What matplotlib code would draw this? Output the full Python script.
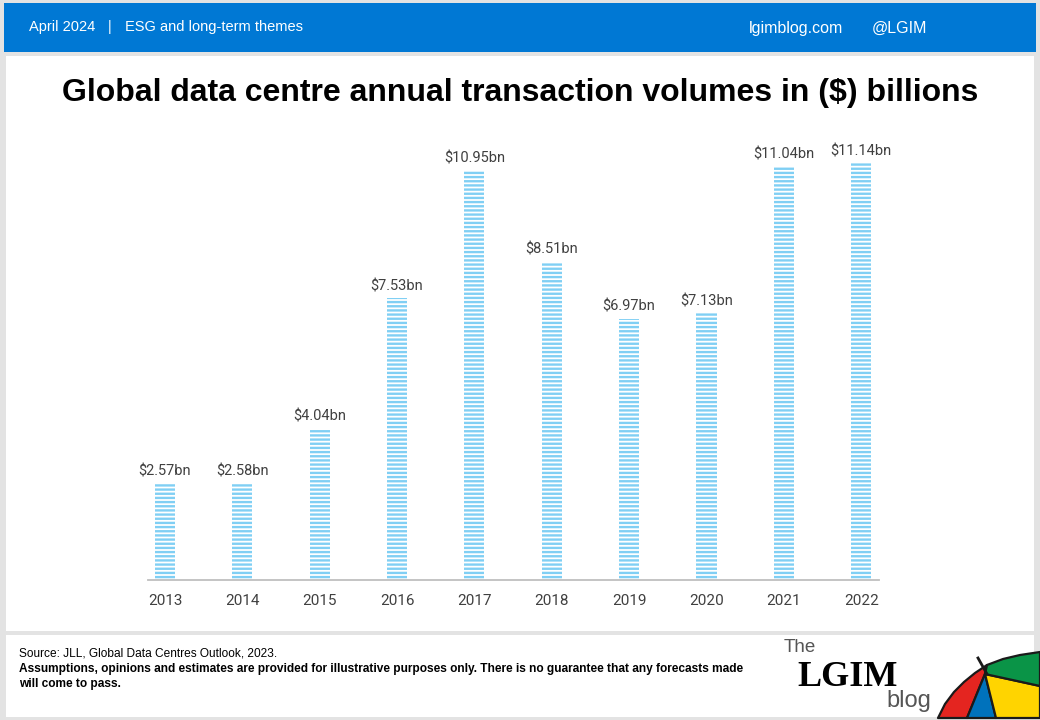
import matplotlib
matplotlib.use("Agg")
import matplotlib.pyplot as plt
from matplotlib.patches import Rectangle, Polygon
import numpy as np

# ---- data ----
years = ["2013", "2014", "2015", "2016", "2017", "2018", "2019", "2020", "2021", "2022"]
volumes = [2.57, 2.58, 4.04, 7.53, 10.95, 8.51, 6.97, 7.13, 11.04, 11.14]
value_labels = ["$2.57bn", "$2.58bn", "$4.04bn", "$7.53bn", "$10.95bn",
                "$8.51bn", "$6.97bn", "$7.13bn", "$11.04bn", "$11.14bn"]

title = "Global data centre annual transaction volumes in ($) billions"
header_left = "April 2024"
header_mid = "ESG and long-term themes"
header_site = "lgimblog.com"
header_handle = "@LGIM"
source_text = "Source: JLL, Global Data Centres Outlook, 2023."
disclaimer_1 = "Assumptions, opinions and estimates are provided for illustrative purposes only. There is no guarantee that any forecasts made"
disclaimer_2 = "will come to pass."

W, H = 1040, 720
BAR_BLUE = "#80cff4"
plt.rcParams["hatch.linewidth"] = 1.7

fig = plt.figure(figsize=(W / 100, H / 100), dpi=100)
fig.patch.set_facecolor("#e3e3e3")

# background / decoration axes in pixel coordinates
bg = fig.add_axes([0, 0, 1, 1], zorder=0)
bg.set_xlim(0, W)
bg.set_ylim(H, 0)
bg.axis("off")
bg.add_patch(Rectangle((4, 3), 1032, 49, facecolor="#0078d4", edgecolor="none"))
bg.add_patch(Rectangle((6, 56), 1028, 575, facecolor="white", edgecolor="none"))
bg.add_patch(Rectangle((6, 635), 1028, 82, facecolor="white", edgecolor="none"))

narrow = ["Liberation Sans Narrow", "Liberation Sans", "DejaVu Sans"]
bg.text(29, 27.5, header_left, color="white", fontsize=10.5, family=narrow, va="center", ha="left")
bg.text(110, 27.5, "|", color="white", fontsize=10.5, family=narrow, va="center", ha="center")
bg.text(125, 27.5, header_mid, color="white", fontsize=10.5, family=narrow, va="center", ha="left")
bg.text(749, 28, header_site, color="white", fontsize=11.5, family=narrow, va="center", ha="left")
bg.text(872, 28, header_handle, color="white", fontsize=11.5, family=narrow, va="center", ha="left")

bg.text(520, 93, title, color="black", fontsize=23, fontweight="bold",
        family=["Liberation Sans", "DejaVu Sans"], va="center", ha="center")

bg.text(19, 654, source_text, color="black", fontsize=8.6, family=narrow, va="center", ha="left")
bg.text(19, 669, disclaimer_1, color="black", fontsize=8.6, fontweight="bold", family=narrow, va="center", ha="left")
bg.text(19, 684, disclaimer_2, color="black", fontsize=8.6, fontweight="bold", family=narrow, va="center", ha="left")

# logo text
bg.text(784, 648, "The", color="#555555", fontsize=13.5, family=narrow, va="center", ha="left")
bg.text(797, 677, "LGIM", color="black", fontsize=26, fontweight="bold",
        family=["Liberation Serif", "DejaVu Serif"], va="center", ha="left")
bg.text(886, 701, "blog", color="#555555", fontsize=17, family=narrow, va="center", ha="left")

# umbrella decoration
apex = (985, 674)
arc_left = [(938, 718), (945, 704), (954, 692), (964, 682), (975, 673), (987, 665)]
arc_right = [(987, 665), (1003, 659), (1020, 655), (1040, 652)]
red = [apex] + arc_left[::-1] + [(967, 718)]
blue = [apex, (967, 718), (996, 718)]
yellow = [apex, (996, 718), (1040, 718), (1040, 686)]
green = [apex] + arc_right + [(1040, 686)]
for pts, col in [(red, "#e42520"), (blue, "#0072bc"), (yellow, "#ffd400"), (green, "#0a9447")]:
    bg.add_patch(Polygon(pts, closed=True, facecolor=col, edgecolor="#1a1a1a", linewidth=1.6, joinstyle="round"))
bg.plot([978, 987], [658, 674], color="#1a1a1a", linewidth=2)

# ---- chart axes ----
px_per_unit = 37.4
ax_left, ax_right = 148, 879
ax_bottom, ax_top = 580, 140
ax = fig.add_axes([ax_left / W, (H - ax_bottom) / H, (ax_right - ax_left) / W, (ax_bottom - ax_top) / H], zorder=1)
ax.set_facecolor("none")
x = np.arange(len(years))
ax.bar(x, volumes, width=0.26, facecolor="white", edgecolor=BAR_BLUE, linewidth=0, hatch="----")
ax.set_xlim(-0.22, 9.23)
ax.set_ylim(0, (ax_bottom - ax_top) / px_per_unit)

for xi, v, lab in zip(x, volumes, value_labels):
    ax.annotate(lab, (xi, v), xytext=(0, 6), textcoords="offset points", ha="center", va="baseline",
                fontsize=10.5, color="#404040", family=["Roboto", "DejaVu Sans"])

for s in ["top", "right", "left"]:
    ax.spines[s].set_visible(False)
ax.spines["bottom"].set_color("#bfbfbf")
ax.spines["bottom"].set_linewidth(1.3)
ax.set_yticks([])
ax.set_xticks(x)
ax.set_xticklabels(years, fontsize=11, color="#404040", family=["Roboto", "DejaVu Sans"])
ax.tick_params(axis="x", length=0, pad=10)

fig.savefig("out.png", dpi=100, facecolor=fig.get_facecolor())
